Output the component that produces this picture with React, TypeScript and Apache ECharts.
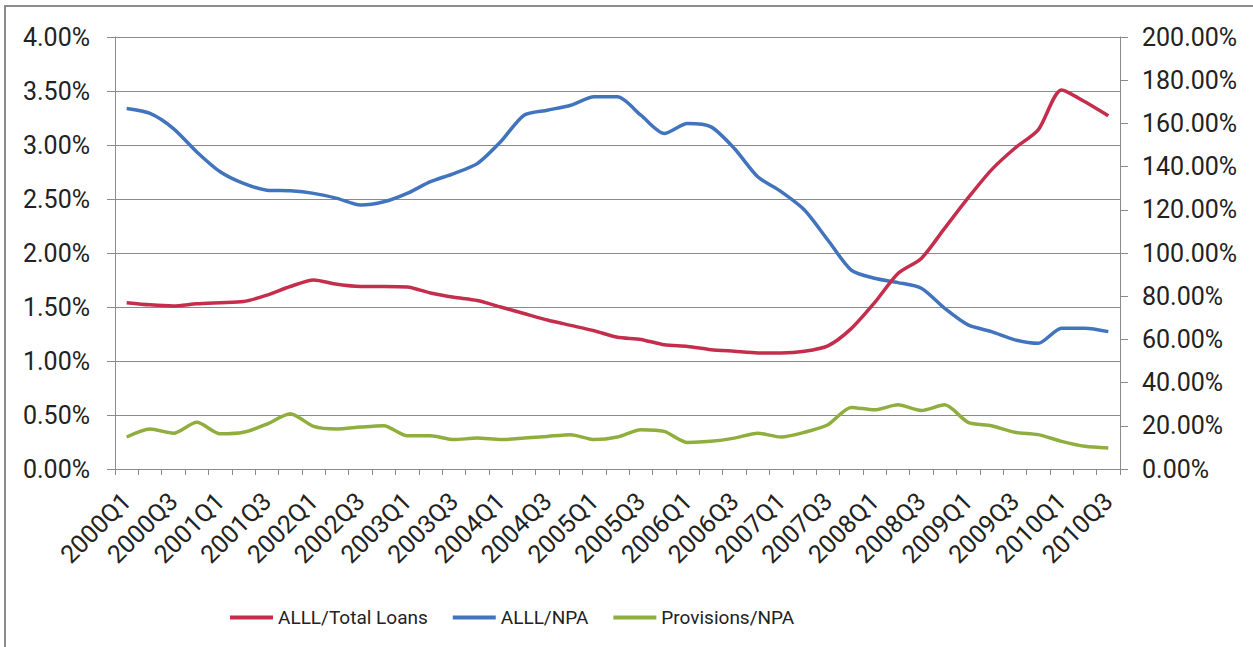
import React, { useEffect, useRef } from "react";
import * as echarts from "echarts";

const categories: string[] = [];
for (let y = 2000; y <= 2010; y++) {
  for (let q = 1; q <= 4; q++) {
    if (y === 2010 && q > 3) break;
    categories.push(`${y}Q${q}`);
  }
}

// ALLL/Total Loans (%), left axis
const alllTotalLoans = [
  1.54, 1.52, 1.51, 1.53, 1.54, 1.55, 1.61, 1.69, 1.75, 1.71, 1.69,
  1.69, 1.685, 1.63, 1.59, 1.56, 1.5, 1.44, 1.38, 1.33, 1.28, 1.22,
  1.2, 1.15, 1.135, 1.105, 1.09, 1.075, 1.075, 1.09, 1.14, 1.3,
  1.54, 1.81, 1.95, 2.23, 2.51, 2.77, 2.97, 3.14, 3.51, 3.4, 3.27,
];

// ALLL/NPA (%), right axis
const alllNpa = [
  166.9, 164.6, 157.6, 146.8, 137.6, 132.2, 129.1, 128.8, 127.6, 125.3, 122.2,
  123.7, 127.6, 133.0, 136.8, 141.4, 151.5, 163.8, 166.1, 168.4, 172.3, 172.3,
  163.8, 155.3, 159.9, 158.4, 148.4, 135.3, 128.4, 119.9, 106.0, 92.1,
  88.3, 86.3, 83.7, 74.4, 66.7, 63.6, 59.8, 58.2, 65.2, 65.2, 63.6,
];

// Provisions/NPA (%), right axis
const provisionsNpa = [
  14.8, 18.5, 16.6, 21.6, 16.3, 17.0, 20.8, 25.6, 19.7, 18.5, 19.4,
  20.0, 15.4, 15.4, 13.6, 14.3, 13.6, 14.3, 15.1, 15.9, 13.6, 14.8,
  18.2, 17.4, 12.3, 12.8, 14.3, 16.6, 14.8, 17.0, 20.5, 28.5,
  27.4, 29.7, 27.1, 29.7, 21.6, 20.0, 17.0, 15.9, 12.8, 10.5, 9.7,
];

const leftTicks = { min: 0, max: 4, interval: 0.5 };
const rightTicks = { min: 0, max: 200, interval: 20 };

const FONT = "Roboto";
const TEXT = "#222222";
const GRID_COLOR = "#8a8a8a";

export default function App() {
  const ref = useRef<HTMLDivElement>(null);
  useEffect(() => {
    if (!ref.current) return;
    const chart = echarts.init(ref.current, null, { renderer: "svg" });
    const pct = (v: number) => v.toFixed(2) + "%";
    chart.setOption({
      animation: false,
      backgroundColor: "#ffffff",
      textStyle: { fontFamily: FONT },
      graphic: [
        {
          type: "rect",
          shape: { x: 5, y: 6, width: 1300, height: 700 },
          style: { fill: "none", stroke: "#8c8c8c", lineWidth: 2 },
          z: 100,
        },
      ],
      grid: { left: 115, right: 133, top: 37, bottom: 178, containLabel: false },
      legend: {
        left: 225,
        top: 603,
        icon: "rect",
        itemWidth: 43,
        itemHeight: 4,
        itemGap: 25,
        textStyle: { fontFamily: FONT, fontSize: 19, color: TEXT },
        data: ["ALLL/Total Loans", "ALLL/NPA", "Provisions/NPA"],
      },
      xAxis: {
        type: "category",
        data: categories,
        boundaryGap: true,
        axisLine: { lineStyle: { color: GRID_COLOR, width: 1 } },
        axisTick: { show: true, interval: 0, length: 6, lineStyle: { color: GRID_COLOR } },
        axisLabel: {
          interval: 1,
          rotate: 45,
          fontSize: 25,
          fontFamily: FONT,
          color: TEXT,
          margin: 28,
        },
        splitLine: { show: false },
      },
      yAxis: [
        {
          type: "value",
          position: "left",
          ...leftTicks,
          axisLine: { show: true, lineStyle: { color: GRID_COLOR, width: 1 } },
          axisTick: { show: true, length: 8, lineStyle: { color: GRID_COLOR } },
          axisLabel: {
            formatter: pct,
            fontSize: 25,
            fontFamily: FONT,
            color: TEXT,
            margin: 25,
          },
          splitLine: { show: true, lineStyle: { color: GRID_COLOR, width: 1 } },
        },
        {
          type: "value",
          position: "right",
          ...rightTicks,
          axisLine: { show: true, lineStyle: { color: GRID_COLOR, width: 1 } },
          axisTick: { show: true, length: 8, lineStyle: { color: GRID_COLOR } },
          axisLabel: {
            formatter: pct,
            fontSize: 25,
            fontFamily: FONT,
            color: TEXT,
            margin: 22,
          },
          splitLine: { show: false },
        },
      ],
      series: [
        {
          name: "ALLL/Total Loans",
          type: "line",
          yAxisIndex: 0,
          data: alllTotalLoans,
          symbol: "none",
          smooth: 0.25,
          lineStyle: { width: 3.5, color: "#C42E4C" },
          itemStyle: { color: "#C42E4C" },
          z: 3,
        },
        {
          name: "ALLL/NPA",
          type: "line",
          yAxisIndex: 1,
          data: alllNpa,
          symbol: "none",
          smooth: 0.25,
          lineStyle: { width: 3.5, color: "#4274BE" },
          itemStyle: { color: "#4274BE" },
          z: 2,
        },
        {
          name: "Provisions/NPA",
          type: "line",
          yAxisIndex: 1,
          data: provisionsNpa,
          symbol: "none",
          smooth: 0.25,
          lineStyle: { width: 3.5, color: "#90AE3E" },
          itemStyle: { color: "#90AE3E" },
          z: 2,
        },
      ],
    });
    return () => chart.dispose();
  }, []);
  return (
    <div
      ref={ref}
      style={{ position: "fixed", left: 0, top: 0, width: 1253, height: 647 }}
    />
  );
}
